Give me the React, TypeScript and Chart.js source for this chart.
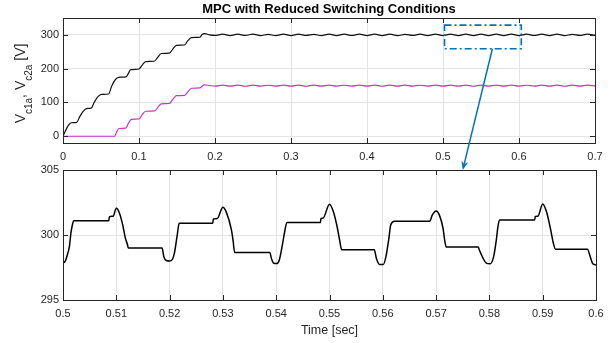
import React, { useEffect, useRef } from "react";
import { Chart, registerables } from "chart.js";

Chart.register(...registerables);

const FONT = "'Liberation Sans', Arial, Helvetica, sans-serif";
const AXIS_COLOR = "#262626";
const GRID_COLOR = "#e3e3e3";
const BLUE = "#0072bd";
const C1_COLOR = "#111111";
const C2_COLOR = "#c834c8";

const titleText = "MPC with Reduced Switching Conditions";
const xAxisTitle = "Time [sec]";
const yAxisTitleParts = [
  { text: "V", sub: false },
  { text: "c1a", sub: true },
  { text: ", ", sub: false },
  { text: "V", sub: false },
  { text: "c2a", sub: true },
  { text: " [V]", sub: false },
];

// ---- axes ----
const topXRange = [0, 0.7];
const topYRange = [-20, 350];
const topXTicks = [0, 0.1, 0.2, 0.3, 0.4, 0.5, 0.6, 0.7];
const topXTickLabels = ["0", "0.1", "0.2", "0.3", "0.4", "0.5", "0.6", "0.7"];
const topYTicks = [0, 100, 200, 300];
const topYTickLabels = ["0", "100", "200", "300"];

const bottomXRange = [0.5, 0.6];
const bottomYRange = [295, 305];
const bottomXTicks = [0.5, 0.51, 0.52, 0.53, 0.54, 0.55, 0.56, 0.57, 0.58, 0.59, 0.6];
const bottomXTickLabels = ["0.5", "0.51", "0.52", "0.53", "0.54", "0.55", "0.56", "0.57", "0.58", "0.59", "0.6"];
const bottomYTicks = [295, 300, 305];
const bottomYTickLabels = ["295", "300", "305"];

// ---- zoom annotation (data coordinates) ----
const zoomBoxX = [0.502, 0.603];
const zoomBoxY = [259, 329];
const arrowStart = [0.565, 259]; // top axes
const arrowEnd = [0.575, 305]; // bottom axes

// ---- top plot: V_c1a ----
const c1Time = [
  0, 0.003, 0.007, 0.011, 0.018, 0.022, 0.027, 0.031, 0.037, 0.041, 0.046, 0.0505,
  0.06, 0.064, 0.069, 0.0745, 0.083, 0.086, 0.089, 0.1, 0.104, 0.1088, 0.12, 0.1245,
  0.1294, 0.14, 0.1445, 0.1492, 0.16, 0.164, 0.169, 0.18, 0.183, 0.1864, 0.193,
  0.2, 0.21, 0.22, 0.23, 0.24, 0.25, 0.26, 0.27, 0.28, 0.29, 0.3, 0.31, 0.32, 0.33,
  0.34, 0.35, 0.36, 0.37, 0.38, 0.39, 0.4, 0.41, 0.42, 0.43, 0.44, 0.45, 0.46, 0.47,
  0.48, 0.49, 0.5, 0.51, 0.52, 0.53, 0.54, 0.55, 0.56, 0.57, 0.58, 0.59, 0.6, 0.61,
  0.62, 0.63, 0.64, 0.65, 0.66, 0.67, 0.68, 0.69, 0.7,
];
const c1Volt = [
  0, 15, 32, 40, 41, 58, 75, 82, 83, 100, 117, 124,
  125, 148, 168, 175, 176, 186, 197, 199, 210, 221, 222, 233,
  245, 246, 258, 269, 270, 282, 292, 293, 301, 304, 300,
  298.5, 302, 298, 302, 298.5, 302.5, 298, 301.5, 298, 302, 298, 302, 298.5, 301.5,
  298, 302, 298, 302, 298.5, 302, 298, 302, 298, 302.5, 298, 301.5, 298.5, 302,
  298, 302, 298, 302, 298, 302, 298, 302.5, 298, 302, 298, 302.5, 298, 302,
  298.5, 302, 298, 302, 298, 301.5, 298.5, 302, 299,
];

// ---- top plot: V_c2a ----
const c2Time = [
  0, 0.068, 0.0705, 0.0737, 0.0825, 0.086, 0.09, 0.1, 0.104, 0.1088, 0.1206, 0.125,
  0.1294, 0.14, 0.1445, 0.149, 0.16, 0.1645, 0.169, 0.18, 0.183, 0.186, 0.193,
  0.2, 0.21, 0.22, 0.23, 0.24, 0.25, 0.26, 0.27, 0.28, 0.29, 0.3, 0.31, 0.32, 0.33,
  0.34, 0.35, 0.36, 0.37, 0.38, 0.39, 0.4, 0.41, 0.42, 0.43, 0.44, 0.45, 0.46, 0.47,
  0.48, 0.49, 0.5, 0.51, 0.52, 0.53, 0.54, 0.55, 0.56, 0.57, 0.58, 0.59, 0.6, 0.61,
  0.62, 0.63, 0.64, 0.65, 0.66, 0.67, 0.68, 0.69, 0.7,
];
const c2Volt = [
  0, 0, 12, 23, 24, 38, 50, 51, 63, 74, 75, 86,
  96, 97, 109, 120, 121, 132, 142, 143, 148, 152, 150,
  148.5, 151.5, 148.5, 151.5, 148, 151.5, 148.5, 151, 148.5, 151.5, 148.5, 151.5, 148, 151.5,
  148.5, 151.5, 148.5, 151, 148.5, 151.5, 148.5, 151.5, 148, 151.5, 148.5, 151.5, 148.5, 151,
  148.5, 151.5, 148.5, 151.5, 148.5, 151.5, 148, 151.5, 148.5, 151.5, 148.5, 151.5, 148.5, 151,
  148.5, 151.5, 148.5, 151.5, 148, 151.5, 148.5, 151.5, 149,
];

// ---- bottom plot: zoom of V_c1a ----
const zoomTime = [
  0.5, 0.5004, 0.5009, 0.5012, 0.5015, 0.5018, 0.502, 0.5086, 0.5087, 0.5094, 0.51,
  0.5106, 0.5112, 0.5117, 0.5121, 0.51225, 0.5186, 0.5189, 0.5194, 0.52, 0.5205,
  0.5209, 0.5214, 0.5218, 0.5281, 0.5282, 0.5289, 0.53, 0.5306, 0.5316, 0.5319,
  0.5322, 0.5388, 0.5391, 0.5395, 0.5401, 0.5406, 0.5411, 0.5416, 0.542, 0.5483,
  0.5484, 0.5488, 0.55, 0.5508, 0.5515, 0.5519, 0.5523, 0.5584, 0.5588, 0.5594,
  0.5601, 0.5606, 0.5611, 0.5615, 0.5622, 0.5688, 0.5693, 0.57, 0.5706, 0.5713,
  0.5716, 0.5719, 0.5779, 0.5781, 0.5788, 0.5794, 0.5802, 0.5808, 0.5813, 0.5816,
  0.5819, 0.5885, 0.5886, 0.5891, 0.59, 0.5907, 0.5915, 0.592, 0.5924, 0.5984,
  0.5989, 0.5994, 0.6,
];
const zoomVolt = [
  297.84, 297.97, 298.6, 299.1, 300.2, 300.85, 301.1, 301.1, 301.4, 301.45, 302.06,
  301.68, 300.78, 299.76, 299.25, 299.0, 299.0, 298.35, 298.04, 298.0, 298.1,
  298.6, 299.9, 300.9, 300.9, 301.24, 301.26, 302.14, 301.8, 300.4, 299.6,
  298.66, 298.66, 298.2, 297.84, 297.8, 298.1, 299.1, 300.27, 300.96, 300.96,
  301.27, 301.3, 302.37, 301.7, 300.5, 299.6, 298.86, 298.86, 298.2, 297.74,
  297.74, 298.35, 299.63, 300.78, 301.06, 301.06, 301.55, 301.85, 301.55, 300.52,
  299.63, 299.07, 299.07, 298.86, 298.22, 297.84, 297.79, 298.35, 299.63, 300.65,
  301.16, 301.16, 301.42, 301.45, 302.39, 301.8, 300.4, 299.37, 298.91, 298.91,
  298.35, 297.79, 297.7,
];

const toPoints = (xs: number[], ys: number[]) => xs.map((x, i) => ({ x, y: ys[i] }));

const boxPlugin = {
  id: "matlabBox",
  afterDraw(chart: any) {
    const { ctx, chartArea: a, scales } = chart;
    const tl = 5;
    ctx.save();
    ctx.strokeStyle = AXIS_COLOR;
    ctx.lineWidth = 1;
    ctx.beginPath();
    for (const t of scales.x.ticks) {
      const px = Math.round(scales.x.getPixelForValue(t.value)) + 0.5;
      ctx.moveTo(px, a.bottom);
      ctx.lineTo(px, a.bottom - tl);
      ctx.moveTo(px, a.top);
      ctx.lineTo(px, a.top + tl);
    }
    for (const t of scales.y.ticks) {
      const py = Math.round(scales.y.getPixelForValue(t.value)) + 0.5;
      ctx.moveTo(a.left, py);
      ctx.lineTo(a.left + tl, py);
      ctx.moveTo(a.right, py);
      ctx.lineTo(a.right - tl, py);
    }
    ctx.stroke();
    ctx.strokeRect(
      Math.round(a.left) + 0.5,
      Math.round(a.top) + 0.5,
      Math.round(a.right - a.left),
      Math.round(a.bottom - a.top)
    );
    ctx.restore();
  },
};

const topTextPlugin = {
  id: "topText",
  afterDraw(chart: any) {
    const { ctx, chartArea: a } = chart;
    ctx.save();
    ctx.fillStyle = "#000";
    ctx.font = `bold 13px ${FONT}`;
    ctx.textAlign = "center";
    ctx.textBaseline = "alphabetic";
    ctx.fillText(titleText, (a.left + a.right) / 2, 13);

    // y label with subscripts, rotated
    const mainSize = 14;
    const subSize = 10;
    const subDrop = 6.5;
    ctx.translate(25, (a.top + a.bottom) / 2 + 3);
    ctx.rotate(-Math.PI / 2);
    ctx.fillStyle = AXIS_COLOR;
    let total = 0;
    for (const p of yAxisTitleParts) {
      ctx.font = `${p.sub ? subSize : mainSize}px ${FONT}`;
      total += ctx.measureText(p.text).width;
    }
    let x = -total / 2;
    ctx.textAlign = "left";
    for (const p of yAxisTitleParts) {
      ctx.font = `${p.sub ? subSize : mainSize}px ${FONT}`;
      ctx.fillText(p.text, x, p.sub ? subDrop : 0);
      x += ctx.measureText(p.text).width;
    }
    ctx.restore();
  },
};

const bottomTextPlugin = {
  id: "bottomText",
  afterDraw(chart: any) {
    const { ctx, chartArea: a } = chart;
    ctx.save();
    ctx.fillStyle = AXIS_COLOR;
    ctx.font = `12.5px ${FONT}`;
    ctx.textAlign = "center";
    ctx.textBaseline = "alphabetic";
    ctx.fillText(xAxisTitle, (a.left + a.right) / 2, a.bottom + 34);
    ctx.restore();
  },
};

function axisConfig(
  range: number[],
  ticks: number[],
  labels: string[],
  isX: boolean,
  size: number,
  pad: number
) {
  return {
    type: "linear",
    min: range[0],
    max: range[1],
    afterBuildTicks: (s: any) => {
      s.ticks = ticks.map((v) => ({ value: v }));
    },
    afterFit: (s: any) => {
      if (isX) s.height = size;
      else s.width = size;
    },
    ticks: {
      autoSkip: false,
      maxRotation: 0,
      padding: pad,
      color: AXIS_COLOR,
      font: { family: FONT, size: 11 },
      callback: (_v: any, i: number) => labels[i],
    },
    grid: { color: GRID_COLOR, lineWidth: 1, drawTicks: false },
    border: { display: false },
  };
}

const TOP_H = 172;
const BOTTOM_TOP = 150;
const BOTTOM_H = 193;

export default function App() {
  const topRef = useRef<HTMLCanvasElement>(null);
  const botRef = useRef<HTMLCanvasElement>(null);
  const ovRef = useRef<HTMLCanvasElement>(null);

  useEffect(() => {
    const topChart = new Chart(topRef.current as HTMLCanvasElement, {
      type: "line",
      data: {
        datasets: [
          {
            data: toPoints(c1Time, c1Volt),
            borderColor: C1_COLOR,
            borderWidth: 1.2,
            pointRadius: 0,
            fill: false,
            cubicInterpolationMode: "monotone",
          },
          {
            data: toPoints(c2Time, c2Volt),
            borderColor: C2_COLOR,
            borderWidth: 1.2,
            pointRadius: 0,
            fill: false,
            cubicInterpolationMode: "monotone",
          },
        ],
      },
      options: {
        responsive: false,
        animation: false,
        events: [],
        layout: { padding: { left: 0, top: 18, right: 19, bottom: 0 } },
        plugins: { legend: { display: false }, tooltip: { enabled: false } },
        scales: {
          x: axisConfig(topXRange, topXTicks, topXTickLabels, true, 29, 7),
          y: axisConfig(topYRange, topYTicks, topYTickLabels, false, 63, 4),
        },
      } as any,
      plugins: [boxPlugin, topTextPlugin],
    });

    const botChart = new Chart(botRef.current as HTMLCanvasElement, {
      type: "line",
      data: {
        datasets: [
          {
            data: toPoints(zoomTime, zoomVolt),
            borderColor: "#000000",
            borderWidth: 1.5,
            pointRadius: 0,
            fill: false,
            cubicInterpolationMode: "monotone",
          },
        ],
      },
      options: {
        responsive: false,
        animation: false,
        events: [],
        layout: { padding: { left: 0, top: 20, right: 18, bottom: 0 } },
        plugins: { legend: { display: false }, tooltip: { enabled: false } },
        scales: {
          x: axisConfig(bottomXRange, bottomXTicks, bottomXTickLabels, true, 43, 7),
          y: axisConfig(bottomYRange, bottomYTicks, bottomYTickLabels, false, 63, 4),
        },
      } as any,
      plugins: [boxPlugin, bottomTextPlugin],
    });

    // overlay: zoom box + arrow
    const ov = ovRef.current as HTMLCanvasElement;
    const ctx = ov.getContext("2d") as CanvasRenderingContext2D;
    ctx.clearRect(0, 0, ov.width, ov.height);
    const tx = topChart.scales.x;
    const ty = topChart.scales.y;
    const bx = botChart.scales.x;
    const by = botChart.scales.y;
    const x0 = tx.getPixelForValue(zoomBoxX[0]);
    const x1 = tx.getPixelForValue(zoomBoxX[1]);
    const y0 = ty.getPixelForValue(zoomBoxY[1]);
    const y1 = ty.getPixelForValue(zoomBoxY[0]);
    ctx.save();
    ctx.strokeStyle = BLUE;
    ctx.lineWidth = 1.6;
    ctx.setLineDash([7, 3, 2, 3]);
    ctx.strokeRect(x0, y0, x1 - x0, y1 - y0);
    ctx.setLineDash([]);

    const sx = tx.getPixelForValue(arrowStart[0]);
    const sy = ty.getPixelForValue(arrowStart[1]);
    const ex = bx.getPixelForValue(arrowEnd[0]);
    const ey = by.getPixelForValue(arrowEnd[1]) + BOTTOM_TOP;
    const ang = Math.atan2(ey - sy, ex - sx);
    const headL = 9;
    const headW = 3.5;
    const ux = Math.cos(ang);
    const uy = Math.sin(ang);
    const nx = -uy;
    const ny = ux;
    ctx.lineWidth = 1.5;
    ctx.beginPath();
    ctx.moveTo(sx, sy);
    ctx.lineTo(ex - ux * (headL - 3), ey - uy * (headL - 3));
    ctx.stroke();
    ctx.fillStyle = BLUE;
    ctx.beginPath();
    ctx.moveTo(ex, ey);
    ctx.lineTo(ex - ux * headL + nx * headW, ey - uy * headL + ny * headW);
    ctx.lineTo(ex - ux * (headL - 3), ey - uy * (headL - 3));
    ctx.lineTo(ex - ux * headL - nx * headW, ey - uy * headL - ny * headW);
    ctx.closePath();
    ctx.fill();
    ctx.restore();

    return () => {
      topChart.destroy();
      botChart.destroy();
      ctx.clearRect(0, 0, ov.width, ov.height);
    };
  }, []);

  return (
    <div
      style={{
        position: "fixed",
        left: 0,
        top: 0,
        width: 614,
        height: 343,
        background: "#ffffff",
        overflow: "hidden",
      }}
    >
      <canvas
        ref={topRef}
        width={614}
        height={TOP_H}
        style={{ position: "absolute", left: 0, top: 0, width: 614, height: TOP_H }}
      />
      <canvas
        ref={botRef}
        width={614}
        height={BOTTOM_H}
        style={{ position: "absolute", left: 0, top: BOTTOM_TOP, width: 614, height: BOTTOM_H }}
      />
      <canvas
        ref={ovRef}
        width={614}
        height={343}
        style={{ position: "absolute", left: 0, top: 0, width: 614, height: 343, pointerEvents: "none" }}
      />
    </div>
  );
}
